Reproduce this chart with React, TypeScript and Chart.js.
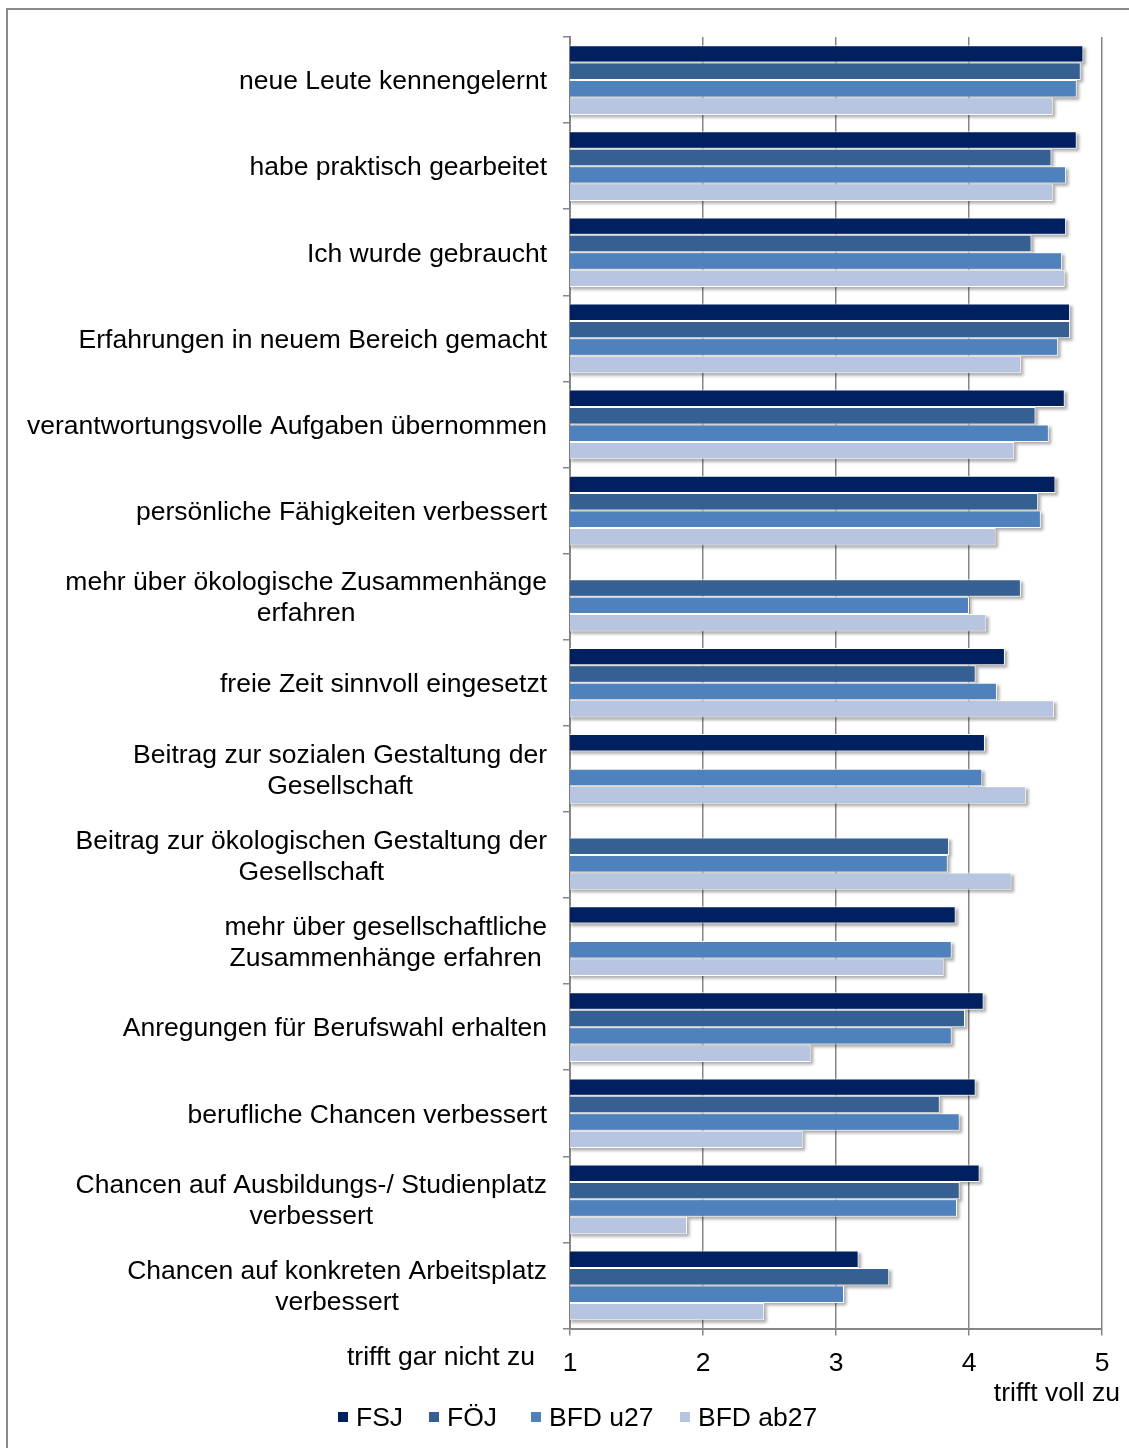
import { useEffect, useRef } from "react";
import { Chart, registerables } from "chart.js";

Chart.register(...registerables);

const FONT = "'Liberation Sans', Arial, sans-serif";
const FONT_SIZE = 26.5;

const categories: (string | string[])[] = [
  "neue Leute kennengelernt",
  "habe praktisch gearbeitet",
  "Ich wurde gebraucht",
  "Erfahrungen in neuem Bereich gemacht",
  "verantwortungsvolle Aufgaben übernommen",
  "persönliche Fähigkeiten verbessert",
  ["mehr über ökologische Zusammenhänge", "erfahren"],
  "freie Zeit sinnvoll eingesetzt",
  ["Beitrag zur sozialen Gestaltung der", "Gesellschaft"],
  ["Beitrag zur ökologischen Gestaltung der", "Gesellschaft"],
  ["mehr über gesellschaftliche", "Zusammenhänge erfahren"],
  "Anregungen für Berufswahl erhalten",
  "berufliche Chancen verbessert",
  ["Chancen auf Ausbildungs-/ Studienplatz", "verbessert"],
  ["Chancen auf konkreten Arbeitsplatz", "verbessert"],
];

const seriesNames = ["FSJ", "FÖJ", "BFD u27", "BFD ab27"];

const fsj = [4.86, 4.81, 4.73, 4.76, 4.72, 4.65, null, 4.27, 4.12, null, 3.9, 4.11, 4.05, 4.08, 3.17];
const foej = [4.84, 4.62, 4.47, 4.76, 4.5, 4.52, 4.39, 4.05, null, 3.85, null, 3.97, 3.78, 3.93, 3.4];
const bfdU27 = [4.81, 4.73, 4.7, 4.67, 4.6, 4.54, 4.0, 4.21, 4.1, 3.84, 3.87, 3.87, 3.93, 3.91, 3.06];
const bfdAb27 = [4.63, 4.63, 4.72, 4.39, 4.34, 4.2, 4.13, 4.64, 4.43, 4.32, 3.81, 2.81, 2.75, 1.88, 2.46];

const xTicks = [1, 2, 3, 4, 5];
const lowLabel = "trifft gar nicht zu";
const highLabel = "trifft voll zu";

const colors = ["#002060", "#366092", "#4f81bd", "#b7c5e0"];
const GRID = "#868686";

const LABEL_RIGHT = 547;
const LEGEND_X = [338, 429, 531, 680];

const decor = {
  id: "decor",
  beforeDatasetsDraw(chart: any) {
    const ctx = chart.ctx;
    const left = chart.chartArea.left;
    ctx.save();
    ctx.filter = "blur(1.5px)";
    ctx.fillStyle = "rgba(0,0,0,0.32)";
    chart.data.datasets.forEach((ds: any, di: number) => {
      const meta = chart.getDatasetMeta(di);
      meta.data.forEach((el: any, i: number) => {
        if (ds.data[i] == null) return;
        const { x, y, base, height } = el.getProps(["x", "y", "base", "height"], true);
        const b = Math.max(base, left + 1);
        ctx.fillRect(b, y - height / 2 + 2.5, x - b + 2.5, height);
      });
    });
    ctx.restore();
  },
  afterDraw(chart: any) {
    const ctx = chart.ctx;
    const yScale = chart.scales.y;
    const xScale = chart.scales.x;
    const bottom = chart.chartArea.bottom;
    ctx.save();
    ctx.fillStyle = "#000";
    ctx.font = `${FONT_SIZE}px ${FONT}`;
    ctx.textBaseline = "middle";
    ctx.textAlign = "center";
    categories.forEach((lab, i) => {
      const lines = Array.isArray(lab) ? lab : [lab];
      const w = Math.max(...lines.map((l) => ctx.measureText(l).width));
      const cx = LABEL_RIGHT - w / 2;
      const cy = yScale.getPixelForValue(i) + 2;
      lines.forEach((l, j) => ctx.fillText(l, cx, cy + (j - (lines.length - 1) / 2) * 31));
    });

    ctx.textBaseline = "alphabetic";
    ctx.textAlign = "right";
    ctx.fillText(lowLabel, xScale.getPixelForValue(xTicks[0]) - 35, bottom + 36);
    ctx.fillText(highLabel, xScale.getPixelForValue(xTicks[xTicks.length - 1]) + 18, bottom + 72.5);

    // legend
    ctx.textAlign = "left";
    chart.data.datasets.forEach((ds: any, i: number) => {
      const bx = LEGEND_X[i];
      const by = bottom + 83.5;
      ctx.fillStyle = ds.backgroundColor;
      ctx.fillRect(bx, by, 10, 10);
      ctx.fillStyle = "#000";
      ctx.fillText(ds.label, bx + 18, bottom + 97.5);
    });
    ctx.restore();
  },
};

export default function App() {
  const ref = useRef<HTMLCanvasElement | null>(null);

  useEffect(() => {
    if (!ref.current) return;
    const series = [fsj, foej, bfdU27, bfdAb27];
    const chart = new Chart(ref.current, {
      type: "bar",
      data: {
        labels: categories.map((c) => (Array.isArray(c) ? c.join(" ") : c)),
        datasets: series.map((d, i) => ({
          label: seriesNames[i],
          data: d,
          backgroundColor: colors[i],
          borderColor: "#ffffff",
          borderWidth: 1,
          borderSkipped: "start",
          categoryPercentage: 0.81,
          barPercentage: 1,
        })),
      },
      options: {
        indexAxis: "y",
        responsive: false,
        animation: false,
        devicePixelRatio: 1,
        layout: { padding: { top: 37, right: 27, left: 0, bottom: 0 } },
        plugins: {
          legend: { display: false },
          tooltip: { enabled: false },
        },
        font: { family: FONT, size: FONT_SIZE },
        scales: {
          x: {
            type: "linear",
            min: 1,
            max: 5,
            afterBuildTicks: (scale: any) => {
              scale.ticks = xTicks.map((v) => ({ value: v }));
            },
            afterFit: (scale: any) => {
              scale.height = 119.5;
            },
            grid: {
              color: GRID,
              lineWidth: 1.5,
              drawTicks: true,
              tickLength: 7,
              tickColor: GRID,
            },
            border: { display: true, color: GRID, width: 2 },
            ticks: {
              color: "#000",
              padding: 12,
              font: { family: FONT, size: FONT_SIZE },
              maxRotation: 0,
            },
          },
          y: {
            type: "category",
            offset: true,
            afterFit: (scale: any) => {
              scale.width = 570;
            },
            grid: {
              offset: true,
              drawOnChartArea: false,
              drawTicks: true,
              tickLength: 7,
              color: GRID,
              lineWidth: 1.5,
            },
            border: { display: true, color: GRID, width: 2 },
            ticks: { display: false },
          },
        },
      },
      plugins: [decor],
    } as any);
    return () => chart.destroy();
  }, []);

  return (
    <div>
      <div
        style={{
          position: "fixed",
          left: 6,
          top: 8,
          width: 1200,
          height: 1500,
          borderTop: "2px solid #8a8a8a",
          borderLeft: "2px solid #8a8a8a",
          pointerEvents: "none",
        }}
      />
      <canvas
        ref={ref}
        width={1129}
        height={1448}
        style={{ position: "fixed", left: 0, top: 0, width: 1129, height: 1448 }}
      />
    </div>
  );
}
